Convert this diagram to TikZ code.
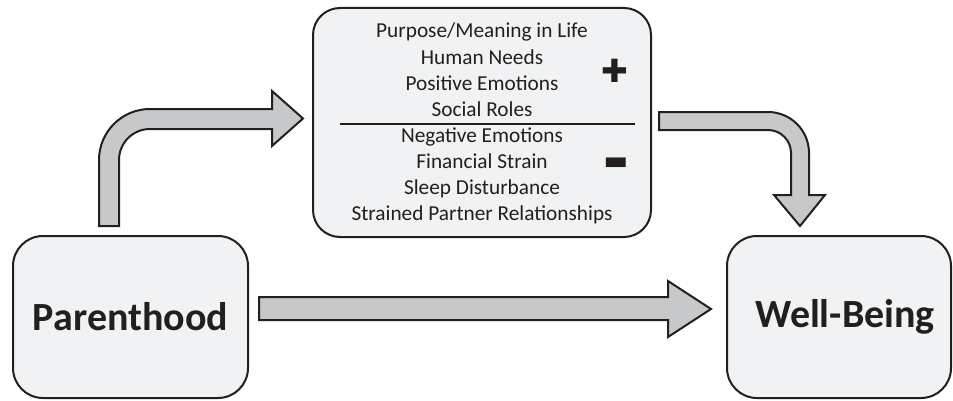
\documentclass[tikz,border=0pt]{standalone}
\usepackage{fontspec}
\setmainfont{Carlito}
\newfontfamily\signfont{DejaVu Sans}
\usetikzlibrary{positioning}
\definecolor{outline}{HTML}{231F20}
\definecolor{boxgray}{HTML}{F1F2F3}
\definecolor{arrowgray}{HTML}{C7C8CA}

\begin{document}
\begin{tikzpicture}
[x=1pt, y=1pt, line width=2pt, every node/.style={text=outline},
box/.style={draw=outline, fill=boxgray, rounded corners=30pt, inner sep=0pt},
title/.style={font=\bfseries\fontsize{40}{42}\selectfont},
item/.style={anchor=base, font=\fontsize{21.3}{24}\selectfont},
sign/.style={font=\signfont\fontsize{#1}{#1}\selectfont},
bigarrow/.style={draw=outline, fill=arrowgray, line join=miter}]
\useasboundingbox (0,0) rectangle (953,400);

\node[box, title, minimum width=235pt, minimum height=162pt] (parent) at (130.5,83) {Parenthood};
\node[box, minimum width=224pt, minimum height=162pt] (wellbeing) at (839,83) {};
\node[title] (wbtext) at ([xshift=6pt]wellbeing.center) {Well-Being};
\node[box, rounded corners=27pt, minimum width=338pt, minimum height=229pt] (factors) at (482,277.5) {};

\foreach \txt [count=\i] in {Purpose/Meaning in Life, Human Needs, Positive Emotions, Social Roles}
  \node[item] (pos\i) at (factors.center |- 0,{362-26.3*(\i-1)}) {\txt};
\foreach \txt [count=\i] in {Negative Emotions, Financial Strain, Sleep Disturbance, Strained Partner Relationships}
  \node[item] (neg\i) at (factors.center |- 0,{258-26.3*(\i-1)}) {\txt};
\draw[line width=2.4pt, outline] (340,276) -- (635,276);
\node[sign=32] (plus) at (615,329) {✚};
\node[sign=26] (minus) at (616,236) {▬};

% parenthood -> factors
\draw[bigarrow] (99,174) -- (99,240) arc (180:90:51) -- (272,291) -- (272,309) -- (303,281.5)
  -- (272,254) -- (272,271) -- (150,271) arc (90:180:31) -- (119,174) -- cycle;
% factors -> well-being
\draw[bigarrow] (659,288) -- (768,288) arc (90:0:41) -- (809,205) -- (825,205) -- (800,174)
  -- (774,205) -- (791,205) -- (791,247) arc (0:90:23) -- (659,270) -- cycle;
% parenthood -> well-being
\draw[bigarrow] (259,103) -- (668,103) -- (668,119) -- (711,91) -- (668,63) -- (668,80) -- (259,80) -- cycle;
\end{tikzpicture}
\end{document}
